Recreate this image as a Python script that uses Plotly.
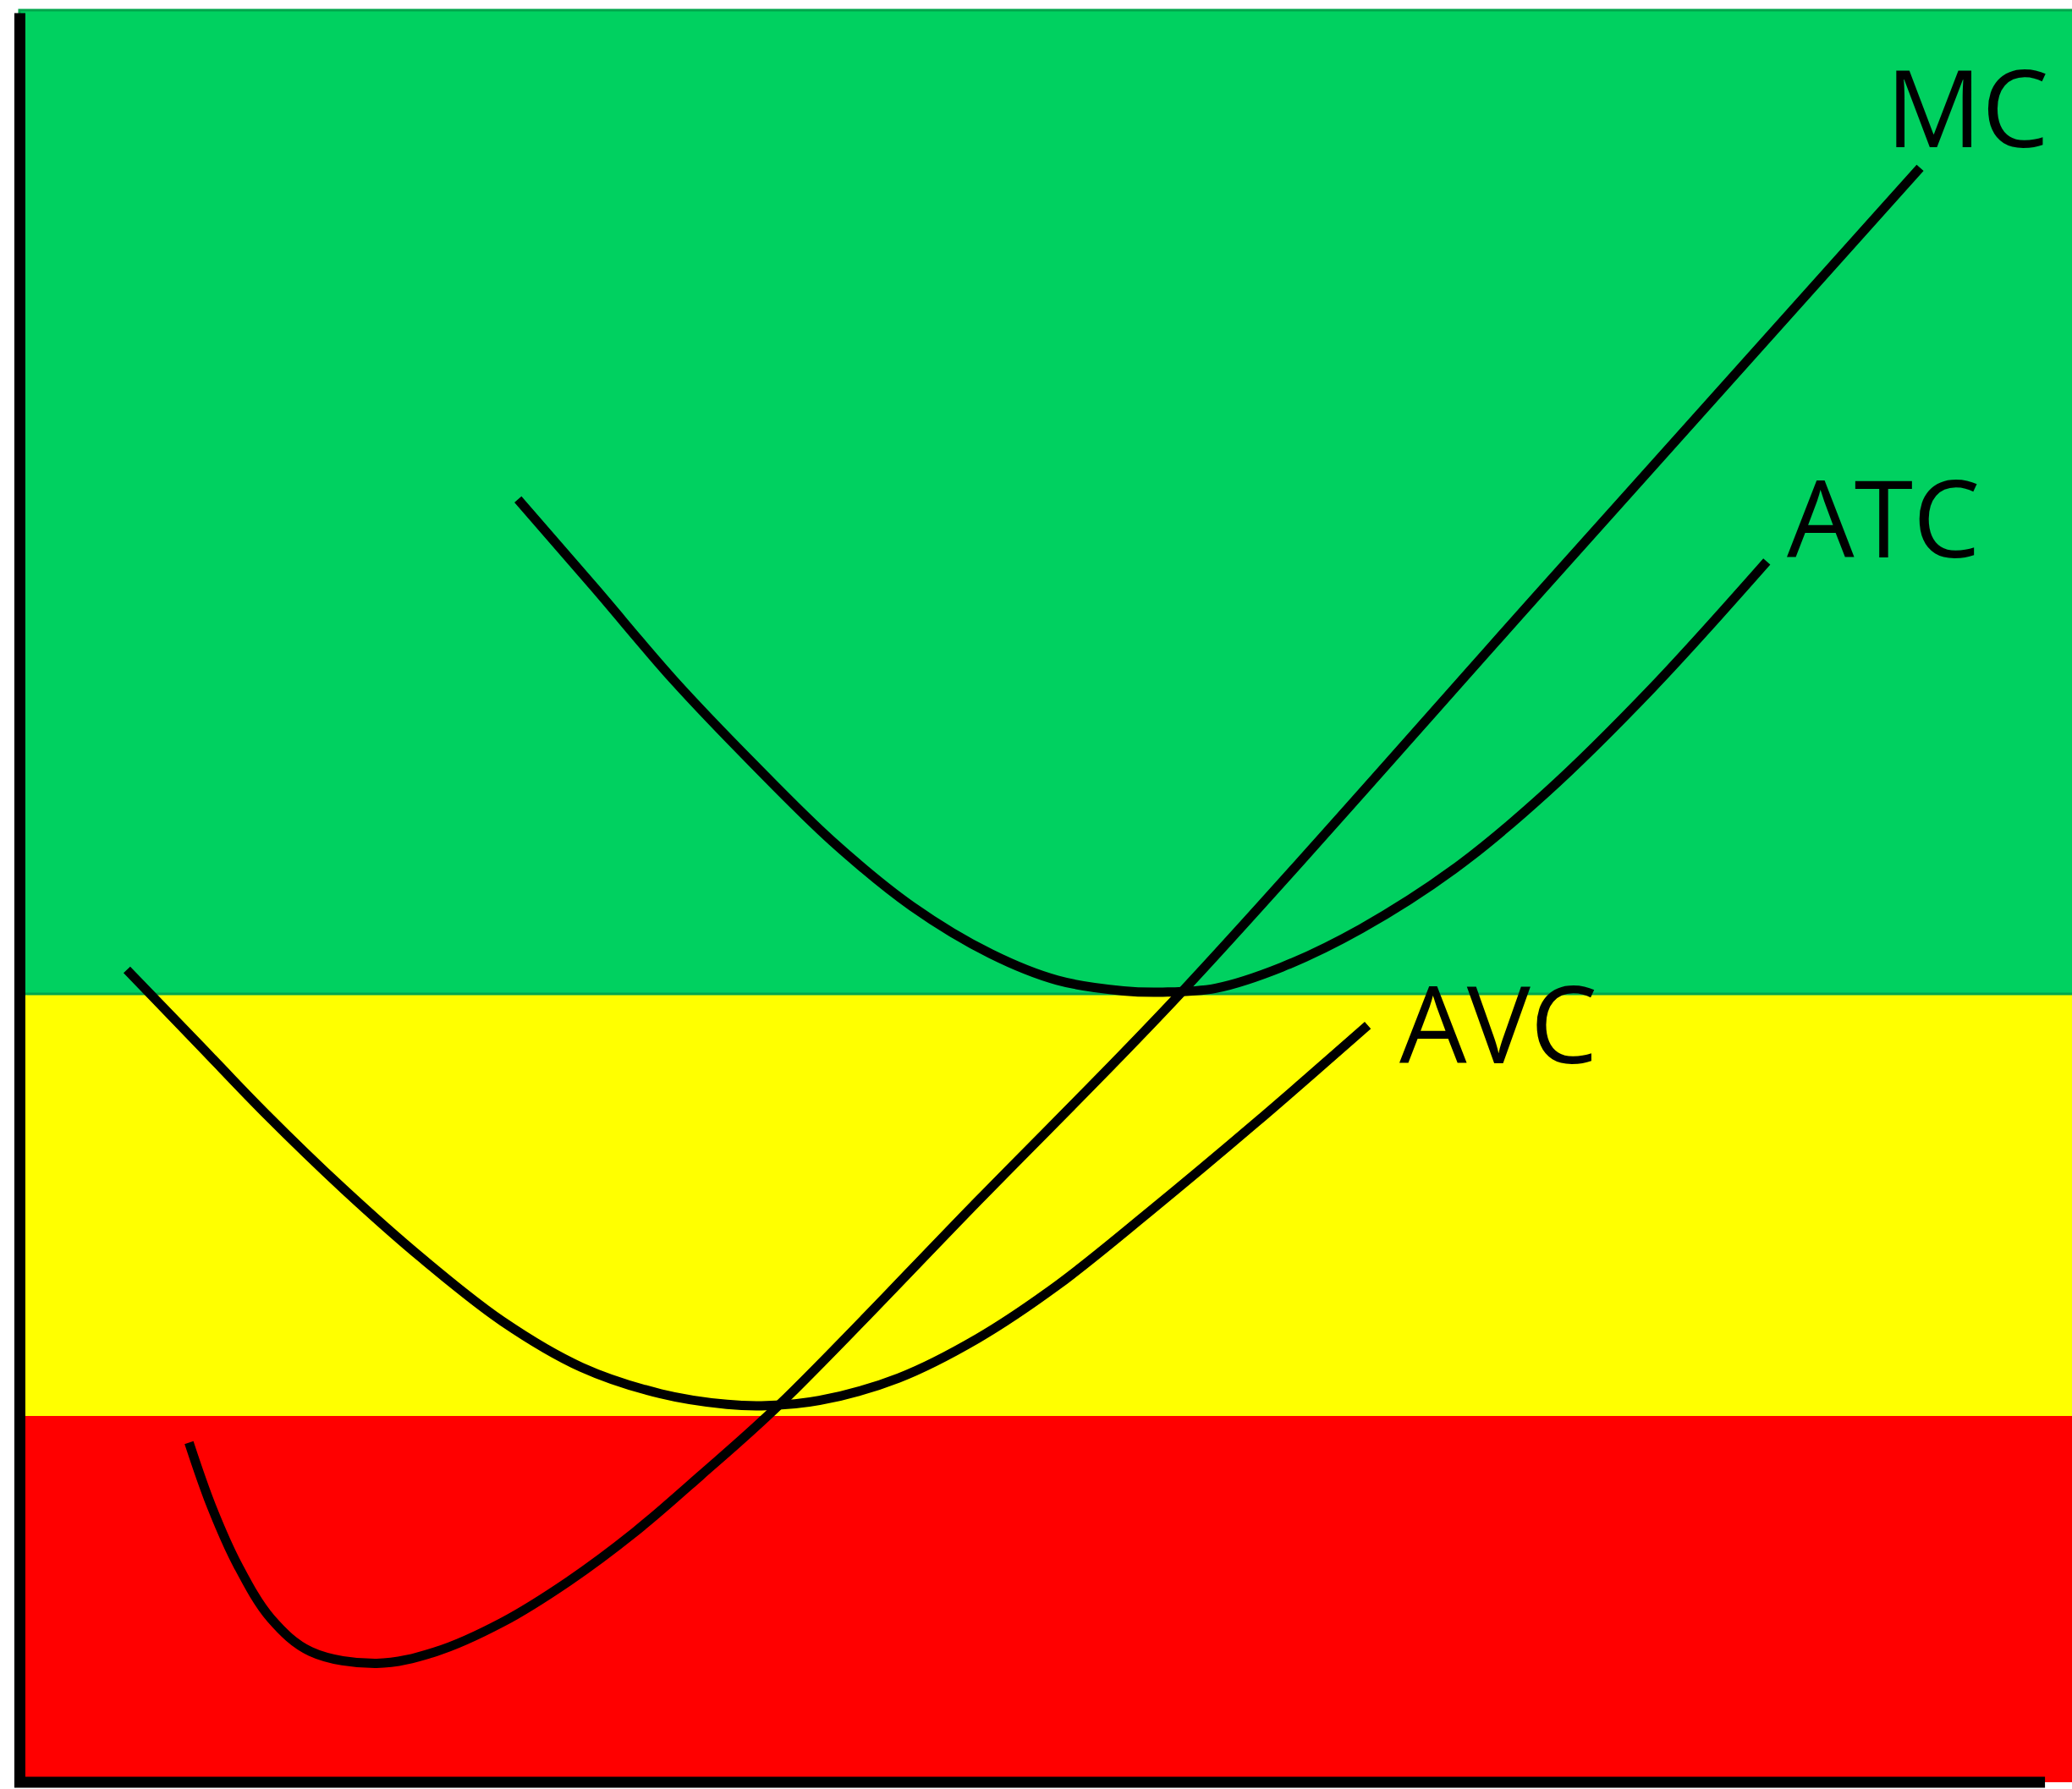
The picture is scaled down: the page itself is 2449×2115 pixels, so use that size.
import plotly.graph_objects as go

# Cost curves (quantity on x, cost on y)
mc_q = [8.35, 9.45, 10.76, 12.38, 14.34, 17.59, 20.52, 23.77, 27.03, 30.28, 33.53, 37.44, 47.20, 57.29, 75.18, 93.60]
mc_c = [19.12, 15.55, 12.20, 9.22, 7.36, 6.69, 7.36, 9.00, 11.30, 14.06, 17.25, 21.27, 32.72, 44.55, 67.38, 90.89]

atc_q = [24.55, 28.33, 32.23, 36.14, 40.04, 43.95, 47.85, 51.11, 54.36, 56.31, 58.91, 62.17, 66.07, 70.63, 75.18, 80.39, 86.05]
atc_c = [72.22, 67.24, 62.03, 57.34, 52.96, 49.31, 46.63, 45.15, 44.55, 44.48, 44.70, 45.89, 48.05, 51.39, 55.71, 61.58, 68.72]

avc_q = [5.29, 8.80, 12.06, 15.96, 19.87, 23.77, 27.68, 31.58, 34.84, 36.79, 39.39, 43.30, 47.20, 51.11, 55.66, 60.87, 66.40]
avc_c = [45.74, 41.58, 37.71, 33.40, 29.45, 25.96, 23.36, 21.87, 21.27, 21.20, 21.49, 22.76, 24.99, 27.97, 32.13, 37.11, 42.61]

# Zone thresholds (cost levels)
shutdown_level = 20.62   # red / yellow boundary
breakeven_level = 44.38  # yellow / green boundary
top_level = 99.76

labels = ["MC", "ATC", "AVC"]
label_q = [95.92, 91.79, 72.83]
label_c = [94.38, 71.29, 42.81]

X_RANGE = [-0.958, 101.08]
Y_RANGE = [-0.381, 100.333]

fig = go.Figure()

line_style = dict(color="black", width=11, shape="spline", smoothing=1.0)
for q, c, name in [(mc_q, mc_c, "MC"), (atc_q, atc_c, "ATC"), (avc_q, avc_c, "AVC")]:
    fig.add_trace(go.Scatter(x=q, y=c, mode="lines", line=line_style, name=name,
                             showlegend=False, hoverinfo="skip"))

x_right = X_RANGE[1] + 1
# Bands
fig.add_shape(type="rect", xref="x", yref="y", x0=0, x1=x_right, y0=0, y1=shutdown_level,
              fillcolor="#FF0000", line=dict(width=0), layer="below")
fig.add_shape(type="rect", xref="x", yref="y", x0=0, x1=x_right, y0=shutdown_level, y1=breakeven_level,
              fillcolor="#FFFF00", line=dict(width=0), layer="below")
fig.add_shape(type="rect", xref="x", yref="y", x0=0, x1=x_right, y0=breakeven_level, y1=top_level,
              fillcolor="#00D160", line=dict(width=3, color="#00A64C"), layer="below")

# Axes lines
fig.add_shape(type="line", xref="x", yref="y", x0=0.02, x1=0.02, y0=-0.29, y1=99.6,
              line=dict(color="black", width=13), layer="above")
fig.add_shape(type="line", xref="x", yref="y", x0=-0.25, x1=99.75, y0=0, y1=0,
              line=dict(color="black", width=13), layer="above")

for t, q, c in zip(labels, label_q, label_c):
    fig.add_annotation(x=q, y=c, xref="x", yref="y", text=t, showarrow=False,
                       xanchor="center", yanchor="middle",
                       font=dict(family="Open Sans", size=126, color="black"))

fig.update_xaxes(range=X_RANGE, visible=False, showgrid=False, zeroline=False)
fig.update_yaxes(range=Y_RANGE, visible=False, showgrid=False, zeroline=False)
fig.update_layout(width=2449, height=2115, margin=dict(l=0, r=0, t=0, b=0, pad=0),
                  paper_bgcolor="white", plot_bgcolor="white", showlegend=False)

fig.write_html(
    "out.html",
    config={"displayModeBar": False},
    post_script="document.body.style.margin='0';document.documentElement.style.overflow='hidden';document.body.style.overflow='hidden';",
)
